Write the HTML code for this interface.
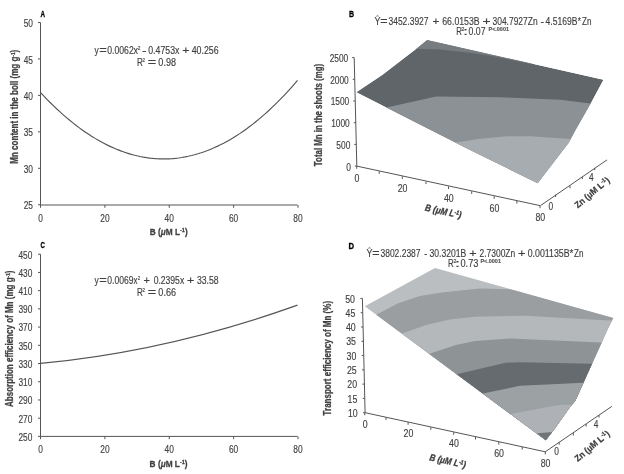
<!DOCTYPE html>
<html><head><meta charset="utf-8"><style>
html,body{margin:0;padding:0;background:#fff;width:624px;height:474px;overflow:hidden}
svg{display:block;filter:blur(0.3px)}
text{font-family:"Liberation Sans", sans-serif}
</style></head><body>
<svg width="624" height="474" viewBox="0 0 624 474">
<rect width="624" height="474" fill="#fff"/>
<line x1="40.50" y1="22.50" x2="40.50" y2="205.00" stroke="#555" stroke-width="1"/>
<line x1="40.50" y1="205.00" x2="297.50" y2="205.00" stroke="#555" stroke-width="1"/>
<line x1="38.00" y1="22.50" x2="40.50" y2="22.50" stroke="#555" stroke-width="1"/>
<text transform="translate(33.00,27.10) scale(0.76,1)" font-size="11" text-anchor="end" font-weight="normal" font-style="normal" fill="#404040" stroke="#404040" stroke-width="0.15">50</text>
<line x1="38.00" y1="58.95" x2="40.50" y2="58.95" stroke="#555" stroke-width="1"/>
<text transform="translate(33.00,63.55) scale(0.76,1)" font-size="11" text-anchor="end" font-weight="normal" font-style="normal" fill="#404040" stroke="#404040" stroke-width="0.15">45</text>
<line x1="38.00" y1="95.40" x2="40.50" y2="95.40" stroke="#555" stroke-width="1"/>
<text transform="translate(33.00,100.00) scale(0.76,1)" font-size="11" text-anchor="end" font-weight="normal" font-style="normal" fill="#404040" stroke="#404040" stroke-width="0.15">40</text>
<line x1="38.00" y1="131.85" x2="40.50" y2="131.85" stroke="#555" stroke-width="1"/>
<text transform="translate(33.00,136.45) scale(0.76,1)" font-size="11" text-anchor="end" font-weight="normal" font-style="normal" fill="#404040" stroke="#404040" stroke-width="0.15">35</text>
<line x1="38.00" y1="168.30" x2="40.50" y2="168.30" stroke="#555" stroke-width="1"/>
<text transform="translate(33.00,172.90) scale(0.76,1)" font-size="11" text-anchor="end" font-weight="normal" font-style="normal" fill="#404040" stroke="#404040" stroke-width="0.15">30</text>
<line x1="38.00" y1="204.75" x2="40.50" y2="204.75" stroke="#555" stroke-width="1"/>
<text transform="translate(33.00,209.35) scale(0.76,1)" font-size="11" text-anchor="end" font-weight="normal" font-style="normal" fill="#404040" stroke="#404040" stroke-width="0.15">25</text>
<line x1="40.50" y1="205.00" x2="40.50" y2="207.80" stroke="#555" stroke-width="1"/>
<text transform="translate(40.50,221.60) scale(0.76,1)" font-size="11" text-anchor="middle" font-weight="normal" font-style="normal" fill="#404040" stroke="#404040" stroke-width="0.15">0</text>
<line x1="104.88" y1="205.00" x2="104.88" y2="207.80" stroke="#555" stroke-width="1"/>
<text transform="translate(104.88,221.60) scale(0.76,1)" font-size="11" text-anchor="middle" font-weight="normal" font-style="normal" fill="#404040" stroke="#404040" stroke-width="0.15">20</text>
<line x1="169.25" y1="205.00" x2="169.25" y2="207.80" stroke="#555" stroke-width="1"/>
<text transform="translate(169.25,221.60) scale(0.76,1)" font-size="11" text-anchor="middle" font-weight="normal" font-style="normal" fill="#404040" stroke="#404040" stroke-width="0.15">40</text>
<line x1="233.62" y1="205.00" x2="233.62" y2="207.80" stroke="#555" stroke-width="1"/>
<text transform="translate(233.62,221.60) scale(0.76,1)" font-size="11" text-anchor="middle" font-weight="normal" font-style="normal" fill="#404040" stroke="#404040" stroke-width="0.15">60</text>
<line x1="298.00" y1="205.00" x2="298.00" y2="207.80" stroke="#555" stroke-width="1"/>
<text transform="translate(298.00,221.60) scale(0.76,1)" font-size="11" text-anchor="middle" font-weight="normal" font-style="normal" fill="#404040" stroke="#404040" stroke-width="0.15">80</text>
<path d="M40.50,92.53 L43.71,95.95 L46.92,99.28 L50.14,102.52 L53.35,105.67 L56.56,108.73 L59.77,111.70 L62.99,114.57 L66.20,117.36 L69.41,120.06 L72.62,122.66 L75.84,125.18 L79.05,127.60 L82.26,129.94 L85.47,132.18 L88.69,134.34 L91.90,136.40 L95.11,138.38 L98.33,140.26 L101.54,142.05 L104.75,143.75 L107.96,145.37 L111.17,146.89 L114.39,148.32 L117.60,149.66 L120.81,150.91 L124.03,152.07 L127.24,153.14 L130.45,154.12 L133.66,155.01 L136.88,155.80 L140.09,156.51 L143.30,157.13 L146.51,157.66 L149.72,158.09 L152.94,158.44 L156.15,158.69 L159.36,158.86 L162.57,158.94 L165.79,158.92 L169.00,158.81 L172.21,158.62 L175.43,158.33 L178.64,157.95 L181.85,157.49 L185.06,156.93 L188.28,156.28 L191.49,155.54 L194.70,154.71 L197.91,153.80 L201.12,152.79 L204.34,151.69 L207.55,150.50 L210.76,149.21 L213.97,147.84 L217.19,146.38 L220.40,144.83 L223.61,143.19 L226.82,141.45 L230.04,139.63 L233.25,137.72 L236.46,135.71 L239.68,133.62 L242.89,131.43 L246.10,129.16 L249.31,126.79 L252.53,124.34 L255.74,121.79 L258.95,119.15 L262.16,116.43 L265.38,113.61 L268.59,110.70 L271.80,107.70 L275.01,104.61 L278.23,101.43 L281.44,98.17 L284.65,94.81 L287.86,91.35 L291.07,87.81 L294.29,84.18 L297.50,80.46" fill="none" stroke="#555" stroke-width="1.15"/>
<text x="94.58" y="54.40" font-size="10.2" font-weight="normal" font-style="normal" fill="#404040" stroke="#404040" stroke-width="0.15" textLength="4.24" lengthAdjust="spacingAndGlyphs">y</text>
<text x="99.17" y="54.40" font-size="10.2" font-weight="normal" font-style="normal" fill="#404040" stroke="#404040" stroke-width="0.15" textLength="7.57" lengthAdjust="spacingAndGlyphs">=</text>
<text x="107.26" y="54.40" font-size="10.2" font-weight="normal" font-style="normal" fill="#404040" stroke="#404040" stroke-width="0.15" textLength="26.47" lengthAdjust="spacingAndGlyphs">0.0062</text>
<text x="133.40" y="54.40" font-size="10.2" font-weight="normal" font-style="normal" fill="#404040" stroke="#404040" stroke-width="0.15" textLength="4.50" lengthAdjust="spacingAndGlyphs">x</text>
<text x="137.76" y="50.10" font-size="6" font-weight="normal" font-style="normal" fill="#404040" stroke="#404040" stroke-width="0.15" textLength="2.69" lengthAdjust="spacingAndGlyphs">2</text>
<text x="141.98" y="54.40" font-size="10.2" font-weight="normal" font-style="normal" fill="#404040" stroke="#404040" stroke-width="0.15" textLength="4.64" lengthAdjust="spacingAndGlyphs">-</text>
<text x="148.26" y="54.40" font-size="10.2" font-weight="normal" font-style="normal" fill="#404040" stroke="#404040" stroke-width="0.15" textLength="31.14" lengthAdjust="spacingAndGlyphs">0.4753x</text>
<text x="182.30" y="54.40" font-size="10.2" font-weight="normal" font-style="normal" fill="#404040" stroke="#404040" stroke-width="0.15" textLength="7.21" lengthAdjust="spacingAndGlyphs">+</text>
<text x="191.70" y="54.40" font-size="10.2" font-weight="normal" font-style="normal" fill="#404040" stroke="#404040" stroke-width="0.15" textLength="26.99" lengthAdjust="spacingAndGlyphs">40.256</text>
<text x="137.04" y="66.20" font-size="10.2" font-weight="normal" font-style="normal" fill="#404040" stroke="#404040" stroke-width="0.15" textLength="5.84" lengthAdjust="spacingAndGlyphs">R</text>
<text x="142.48" y="62.00" font-size="5" font-weight="normal" font-style="normal" fill="#404040" stroke="#404040" stroke-width="0.15" textLength="2.44" lengthAdjust="spacingAndGlyphs">2</text>
<text x="147.70" y="66.20" font-size="10.2" font-weight="normal" font-style="normal" fill="#404040" stroke="#404040" stroke-width="0.15" textLength="8.41" lengthAdjust="spacingAndGlyphs">=</text>
<text x="158.35" y="66.20" font-size="10.2" font-weight="normal" font-style="normal" fill="#404040" stroke="#404040" stroke-width="0.15" textLength="17.65" lengthAdjust="spacingAndGlyphs">0.98</text>
<text transform="translate(17.50,106.70) rotate(-90.00) scale(0.76,1)" font-size="10" text-anchor="middle" font-weight="bold" font-style="normal" fill="#404040" stroke="#404040" stroke-width="0.25" textLength="150.00" lengthAdjust="spacingAndGlyphs">Mn content in the boll (mg g<tspan font-size="6" dy="-3">-1</tspan><tspan dy="3">)</tspan></text>
<text transform="translate(168.70,234.60) scale(0.76,1)" font-size="9" text-anchor="middle" font-weight="bold" font-style="normal" fill="#404040" stroke="#404040" stroke-width="0.25" textLength="50.00" lengthAdjust="spacingAndGlyphs">B (<tspan font-style="italic">μ</tspan>M L<tspan font-size="6" dy="-3">-1</tspan><tspan dy="3">)</tspan></text>
<text x="40.44" y="16.90" font-size="9.3" font-weight="bold" font-style="normal" fill="#000" stroke="#000" stroke-width="0.3" textLength="4.52" lengthAdjust="spacingAndGlyphs">A</text>
<line x1="40.50" y1="254.20" x2="40.50" y2="436.40" stroke="#555" stroke-width="1"/>
<line x1="40.50" y1="436.40" x2="297.50" y2="436.40" stroke="#555" stroke-width="1"/>
<line x1="38.00" y1="254.20" x2="40.50" y2="254.20" stroke="#555" stroke-width="1"/>
<text transform="translate(32.40,258.60) scale(0.76,1)" font-size="11" text-anchor="end" font-weight="normal" font-style="normal" fill="#404040" stroke="#404040" stroke-width="0.15">450</text>
<line x1="38.00" y1="272.42" x2="40.50" y2="272.42" stroke="#555" stroke-width="1"/>
<text transform="translate(32.40,276.82) scale(0.76,1)" font-size="11" text-anchor="end" font-weight="normal" font-style="normal" fill="#404040" stroke="#404040" stroke-width="0.15">430</text>
<line x1="38.00" y1="290.64" x2="40.50" y2="290.64" stroke="#555" stroke-width="1"/>
<text transform="translate(32.40,295.04) scale(0.76,1)" font-size="11" text-anchor="end" font-weight="normal" font-style="normal" fill="#404040" stroke="#404040" stroke-width="0.15">410</text>
<line x1="38.00" y1="308.86" x2="40.50" y2="308.86" stroke="#555" stroke-width="1"/>
<text transform="translate(32.40,313.26) scale(0.76,1)" font-size="11" text-anchor="end" font-weight="normal" font-style="normal" fill="#404040" stroke="#404040" stroke-width="0.15">390</text>
<line x1="38.00" y1="327.08" x2="40.50" y2="327.08" stroke="#555" stroke-width="1"/>
<text transform="translate(32.40,331.48) scale(0.76,1)" font-size="11" text-anchor="end" font-weight="normal" font-style="normal" fill="#404040" stroke="#404040" stroke-width="0.15">370</text>
<line x1="38.00" y1="345.30" x2="40.50" y2="345.30" stroke="#555" stroke-width="1"/>
<text transform="translate(32.40,349.70) scale(0.76,1)" font-size="11" text-anchor="end" font-weight="normal" font-style="normal" fill="#404040" stroke="#404040" stroke-width="0.15">350</text>
<line x1="38.00" y1="363.52" x2="40.50" y2="363.52" stroke="#555" stroke-width="1"/>
<text transform="translate(32.40,367.92) scale(0.76,1)" font-size="11" text-anchor="end" font-weight="normal" font-style="normal" fill="#404040" stroke="#404040" stroke-width="0.15">330</text>
<line x1="38.00" y1="381.74" x2="40.50" y2="381.74" stroke="#555" stroke-width="1"/>
<text transform="translate(32.40,386.14) scale(0.76,1)" font-size="11" text-anchor="end" font-weight="normal" font-style="normal" fill="#404040" stroke="#404040" stroke-width="0.15">310</text>
<line x1="38.00" y1="399.96" x2="40.50" y2="399.96" stroke="#555" stroke-width="1"/>
<text transform="translate(32.40,404.36) scale(0.76,1)" font-size="11" text-anchor="end" font-weight="normal" font-style="normal" fill="#404040" stroke="#404040" stroke-width="0.15">290</text>
<line x1="38.00" y1="418.18" x2="40.50" y2="418.18" stroke="#555" stroke-width="1"/>
<text transform="translate(32.40,422.58) scale(0.76,1)" font-size="11" text-anchor="end" font-weight="normal" font-style="normal" fill="#404040" stroke="#404040" stroke-width="0.15">270</text>
<line x1="38.00" y1="436.40" x2="40.50" y2="436.40" stroke="#555" stroke-width="1"/>
<text transform="translate(32.40,440.80) scale(0.76,1)" font-size="11" text-anchor="end" font-weight="normal" font-style="normal" fill="#404040" stroke="#404040" stroke-width="0.15">250</text>
<line x1="40.50" y1="436.40" x2="40.50" y2="439.20" stroke="#555" stroke-width="1"/>
<text transform="translate(40.50,452.60) scale(0.76,1)" font-size="11" text-anchor="middle" font-weight="normal" font-style="normal" fill="#404040" stroke="#404040" stroke-width="0.15">0</text>
<line x1="104.88" y1="436.40" x2="104.88" y2="439.20" stroke="#555" stroke-width="1"/>
<text transform="translate(104.88,452.60) scale(0.76,1)" font-size="11" text-anchor="middle" font-weight="normal" font-style="normal" fill="#404040" stroke="#404040" stroke-width="0.15">20</text>
<line x1="169.25" y1="436.40" x2="169.25" y2="439.20" stroke="#555" stroke-width="1"/>
<text transform="translate(169.25,452.60) scale(0.76,1)" font-size="11" text-anchor="middle" font-weight="normal" font-style="normal" fill="#404040" stroke="#404040" stroke-width="0.15">40</text>
<line x1="233.62" y1="436.40" x2="233.62" y2="439.20" stroke="#555" stroke-width="1"/>
<text transform="translate(233.62,452.60) scale(0.76,1)" font-size="11" text-anchor="middle" font-weight="normal" font-style="normal" fill="#404040" stroke="#404040" stroke-width="0.15">60</text>
<line x1="298.00" y1="436.40" x2="298.00" y2="439.20" stroke="#555" stroke-width="1"/>
<text transform="translate(298.00,452.60) scale(0.76,1)" font-size="11" text-anchor="middle" font-weight="normal" font-style="normal" fill="#404040" stroke="#404040" stroke-width="0.15">80</text>
<path d="M40.5,363.4 Q169,351.15 297.5,305.1" fill="none" stroke="#555" stroke-width="1.15"/>
<text x="94.58" y="284.40" font-size="10.2" font-weight="normal" font-style="normal" fill="#404040" stroke="#404040" stroke-width="0.15" textLength="4.24" lengthAdjust="spacingAndGlyphs">y</text>
<text x="99.17" y="284.40" font-size="10.2" font-weight="normal" font-style="normal" fill="#404040" stroke="#404040" stroke-width="0.15" textLength="7.57" lengthAdjust="spacingAndGlyphs">=</text>
<text x="107.27" y="284.40" font-size="10.2" font-weight="normal" font-style="normal" fill="#404040" stroke="#404040" stroke-width="0.15" textLength="26.14" lengthAdjust="spacingAndGlyphs">0.0069</text>
<text x="133.61" y="284.40" font-size="10.2" font-weight="normal" font-style="normal" fill="#404040" stroke="#404040" stroke-width="0.15" textLength="3.97" lengthAdjust="spacingAndGlyphs">x</text>
<text x="137.78" y="280.10" font-size="6" font-weight="normal" font-style="normal" fill="#404040" stroke="#404040" stroke-width="0.15" textLength="2.44" lengthAdjust="spacingAndGlyphs">2</text>
<text x="143.47" y="284.40" font-size="10.2" font-weight="normal" font-style="normal" fill="#404040" stroke="#404040" stroke-width="0.15" textLength="6.37" lengthAdjust="spacingAndGlyphs">+</text>
<text x="153.66" y="284.40" font-size="10.2" font-weight="normal" font-style="normal" fill="#404040" stroke="#404040" stroke-width="0.15" textLength="30.53" lengthAdjust="spacingAndGlyphs">0.2395x</text>
<text x="187.10" y="284.40" font-size="10.2" font-weight="normal" font-style="normal" fill="#404040" stroke="#404040" stroke-width="0.15" textLength="7.21" lengthAdjust="spacingAndGlyphs">+</text>
<text x="196.97" y="284.40" font-size="10.2" font-weight="normal" font-style="normal" fill="#404040" stroke="#404040" stroke-width="0.15" textLength="21.71" lengthAdjust="spacingAndGlyphs">33.58</text>
<text x="137.04" y="296.20" font-size="10.2" font-weight="normal" font-style="normal" fill="#404040" stroke="#404040" stroke-width="0.15" textLength="5.84" lengthAdjust="spacingAndGlyphs">R</text>
<text x="142.48" y="292.00" font-size="5" font-weight="normal" font-style="normal" fill="#404040" stroke="#404040" stroke-width="0.15" textLength="2.44" lengthAdjust="spacingAndGlyphs">2</text>
<text x="147.70" y="296.20" font-size="10.2" font-weight="normal" font-style="normal" fill="#404040" stroke="#404040" stroke-width="0.15" textLength="8.41" lengthAdjust="spacingAndGlyphs">=</text>
<text x="158.35" y="296.20" font-size="10.2" font-weight="normal" font-style="normal" fill="#404040" stroke="#404040" stroke-width="0.15" textLength="17.65" lengthAdjust="spacingAndGlyphs">0.66</text>
<text transform="translate(12.80,338.75) rotate(-90.00) scale(0.76,1)" font-size="10" text-anchor="middle" font-weight="bold" font-style="normal" fill="#404040" stroke="#404040" stroke-width="0.25" textLength="179.61" lengthAdjust="spacingAndGlyphs">Absorption efficiency of Mn (mg g<tspan font-size="6" dy="-3">-1</tspan><tspan dy="3">)</tspan></text>
<text transform="translate(168.60,466.70) scale(0.76,1)" font-size="9" text-anchor="middle" font-weight="bold" font-style="normal" fill="#404040" stroke="#404040" stroke-width="0.25" textLength="50.00" lengthAdjust="spacingAndGlyphs">B (<tspan font-style="italic">μ</tspan>M L<tspan font-size="6" dy="-3">-1</tspan><tspan dy="3">)</tspan></text>
<text x="40.55" y="248.10" font-size="9.3" font-weight="bold" font-style="normal" fill="#000" stroke="#000" stroke-width="0.3" textLength="4.42" lengthAdjust="spacingAndGlyphs">C</text>
<clipPath id="cb"><polygon points="356.3,92.2 382.5,74.7 416.3,48.7 427.2,40 603.5,79.8 591,103 575.6,130 568.7,142.7 552.2,164.2 537.7,183.2 470,150 400,114.6"/></clipPath>
<g clip-path="url(#cb)">
<polygon points="356.3,92.2 382.5,74.7 416.3,48.7 427.2,40.0 603.5,79.8 591.0,103.0 575.6,130.0 568.7,142.7 552.2,164.2 537.7,183.2 470.0,150.0 400.0,114.6" fill="#5f6568"/>
<polygon points="400.0,48.5 416.3,48.7 440.0,49.6 470.0,52.8 495.0,56.6 532.0,64.2 532.0,0.0 400.0,0.0" fill="#767c80"/>
<polygon points="370.0,111.0 386.5,107.5 436.2,96.4 501.0,97.3 530.0,98.4 560.0,99.8 590.6,103.6 640.0,108.0 640.0,250.0 300.0,250.0" fill="#8b9195"/>
<polygon points="430.0,145.0 457.9,142.3 478.0,139.1 507.0,136.2 530.0,136.3 570.8,138.9 640.0,142.0 640.0,250.0 300.0,250.0" fill="#a7acb0"/>
</g>
<line x1="354.20" y1="57.60" x2="356.80" y2="166.10" stroke="#555" stroke-width="1"/>
<line x1="352.20" y1="57.60" x2="354.20" y2="57.60" stroke="#555" stroke-width="1"/>
<text transform="translate(348.20,62.00) scale(0.76,1)" font-size="11" text-anchor="end" font-weight="normal" font-style="normal" fill="#404040" stroke="#404040" stroke-width="0.15">2500</text>
<line x1="352.72" y1="79.30" x2="354.72" y2="79.30" stroke="#555" stroke-width="1"/>
<text transform="translate(348.72,83.70) scale(0.76,1)" font-size="11" text-anchor="end" font-weight="normal" font-style="normal" fill="#404040" stroke="#404040" stroke-width="0.15">2000</text>
<line x1="353.24" y1="101.00" x2="355.24" y2="101.00" stroke="#555" stroke-width="1"/>
<text transform="translate(349.24,105.40) scale(0.76,1)" font-size="11" text-anchor="end" font-weight="normal" font-style="normal" fill="#404040" stroke="#404040" stroke-width="0.15">1500</text>
<line x1="353.76" y1="122.70" x2="355.76" y2="122.70" stroke="#555" stroke-width="1"/>
<text transform="translate(349.76,127.10) scale(0.76,1)" font-size="11" text-anchor="end" font-weight="normal" font-style="normal" fill="#404040" stroke="#404040" stroke-width="0.15">1000</text>
<line x1="354.28" y1="144.40" x2="356.28" y2="144.40" stroke="#555" stroke-width="1"/>
<text transform="translate(350.28,148.80) scale(0.76,1)" font-size="11" text-anchor="end" font-weight="normal" font-style="normal" fill="#404040" stroke="#404040" stroke-width="0.15">500</text>
<line x1="354.80" y1="166.10" x2="356.80" y2="166.10" stroke="#555" stroke-width="1"/>
<text transform="translate(350.80,170.50) scale(0.76,1)" font-size="11" text-anchor="end" font-weight="normal" font-style="normal" fill="#404040" stroke="#404040" stroke-width="0.15">0</text>
<line x1="356.80" y1="166.10" x2="540.00" y2="205.60" stroke="#555" stroke-width="1"/>
<line x1="356.70" y1="166.20" x2="356.70" y2="168.80" stroke="#555" stroke-width="1"/>
<text transform="translate(357.00,181.80) scale(0.8,1)" font-size="11" text-anchor="middle" font-weight="normal" font-style="normal" fill="#404040" stroke="#404040" stroke-width="0.15">0</text>
<line x1="379.20" y1="171.30" x2="379.20" y2="173.90" stroke="#555" stroke-width="1"/>
<line x1="402.30" y1="176.30" x2="402.30" y2="178.90" stroke="#555" stroke-width="1"/>
<text transform="translate(402.60,191.90) scale(0.8,1)" font-size="11" text-anchor="middle" font-weight="normal" font-style="normal" fill="#404040" stroke="#404040" stroke-width="0.15">20</text>
<line x1="426.00" y1="181.50" x2="426.00" y2="184.10" stroke="#555" stroke-width="1"/>
<line x1="448.50" y1="186.40" x2="448.50" y2="189.00" stroke="#555" stroke-width="1"/>
<text transform="translate(448.80,202.00) scale(0.8,1)" font-size="11" text-anchor="middle" font-weight="normal" font-style="normal" fill="#404040" stroke="#404040" stroke-width="0.15">40</text>
<line x1="471.70" y1="191.30" x2="471.70" y2="193.90" stroke="#555" stroke-width="1"/>
<line x1="494.20" y1="196.20" x2="494.20" y2="198.80" stroke="#555" stroke-width="1"/>
<text transform="translate(494.50,211.80) scale(0.8,1)" font-size="11" text-anchor="middle" font-weight="normal" font-style="normal" fill="#404040" stroke="#404040" stroke-width="0.15">60</text>
<line x1="516.90" y1="201.00" x2="516.90" y2="203.60" stroke="#555" stroke-width="1"/>
<line x1="540.00" y1="205.60" x2="540.00" y2="208.20" stroke="#555" stroke-width="1"/>
<text transform="translate(540.30,221.20) scale(0.8,1)" font-size="11" text-anchor="middle" font-weight="normal" font-style="normal" fill="#404040" stroke="#404040" stroke-width="0.15">80</text>
<line x1="540.50" y1="205.60" x2="607.00" y2="159.90" stroke="#555" stroke-width="1"/>
<line x1="555.60" y1="194.60" x2="555.60" y2="197.00" stroke="#555" stroke-width="1"/>
<line x1="570.00" y1="185.90" x2="570.00" y2="188.30" stroke="#555" stroke-width="1"/>
<line x1="582.30" y1="176.70" x2="582.30" y2="179.10" stroke="#555" stroke-width="1"/>
<line x1="594.70" y1="167.80" x2="594.70" y2="170.20" stroke="#555" stroke-width="1"/>
<text transform="translate(550.80,209.60) scale(0.76,1)" font-size="11" text-anchor="middle" font-weight="normal" font-style="normal" fill="#404040" stroke="#404040" stroke-width="0.15">0</text>
<text transform="translate(591.30,180.50) scale(0.76,1)" font-size="11" text-anchor="middle" font-weight="normal" font-style="normal" fill="#404040" stroke="#404040" stroke-width="0.15">4</text>
<text transform="translate(442.70,214.50) rotate(12.17) scale(0.76,1)" font-size="9.6" text-anchor="middle" font-weight="bold" font-style="italic" fill="#404040" stroke="#404040" stroke-width="0.3" textLength="48.68" lengthAdjust="spacingAndGlyphs">B (μM L<tspan font-size="6" dy="-3">-1</tspan><tspan dy="3">)</tspan></text>
<text transform="translate(594.00,194.80) rotate(-40.00) scale(0.76,1)" font-size="9" text-anchor="middle" font-weight="bold" font-style="normal" fill="#404040" stroke="#404040" stroke-width="0.25" textLength="55.92" lengthAdjust="spacingAndGlyphs">Zn (μM L<tspan font-size="6" dy="-3">-1</tspan><tspan dy="3">)</tspan></text>
<text transform="translate(322.00,115.00) rotate(-90.00) scale(0.76,1)" font-size="10" text-anchor="middle" font-weight="bold" font-style="normal" fill="#404040" stroke="#404040" stroke-width="0.25" textLength="134.61" lengthAdjust="spacingAndGlyphs">Total Mn in the shoots (mg)</text>
<text x="374.60" y="25.30" font-size="10.2" font-weight="normal" font-style="normal" fill="#404040" stroke="#404040" stroke-width="0.15" textLength="5.99" lengthAdjust="spacingAndGlyphs">Ŷ</text>
<text x="380.39" y="25.30" font-size="10.2" font-weight="normal" font-style="normal" fill="#404040" stroke="#404040" stroke-width="0.15" textLength="7.33" lengthAdjust="spacingAndGlyphs">=</text>
<text x="388.48" y="25.30" font-size="10.2" font-weight="normal" font-style="normal" fill="#404040" stroke="#404040" stroke-width="0.15" textLength="40.05" lengthAdjust="spacingAndGlyphs">3452.3927</text>
<text x="432.54" y="25.30" font-size="10.2" font-weight="normal" font-style="normal" fill="#404040" stroke="#404040" stroke-width="0.15" textLength="6.73" lengthAdjust="spacingAndGlyphs">+</text>
<text x="442.26" y="25.30" font-size="10.2" font-weight="normal" font-style="normal" fill="#404040" stroke="#404040" stroke-width="0.15" textLength="37.40" lengthAdjust="spacingAndGlyphs">66.0153B</text>
<text x="482.43" y="25.30" font-size="10.2" font-weight="normal" font-style="normal" fill="#404040" stroke="#404040" stroke-width="0.15" textLength="8.05" lengthAdjust="spacingAndGlyphs">+</text>
<text x="492.48" y="25.30" font-size="10.2" font-weight="normal" font-style="normal" fill="#404040" stroke="#404040" stroke-width="0.15" textLength="45.17" lengthAdjust="spacingAndGlyphs">304.7927Zn</text>
<text x="540.53" y="25.30" font-size="10.2" font-weight="normal" font-style="normal" fill="#404040" stroke="#404040" stroke-width="0.15" textLength="3.55" lengthAdjust="spacingAndGlyphs">-</text>
<text x="545.60" y="25.30" font-size="10.2" font-weight="normal" font-style="normal" fill="#404040" stroke="#404040" stroke-width="0.15" textLength="31.85" lengthAdjust="spacingAndGlyphs">4.5169B</text>
<text x="577.87" y="25.30" font-size="10.2" font-weight="normal" font-style="normal" fill="#404040" stroke="#404040" stroke-width="0.15" textLength="3.16" lengthAdjust="spacingAndGlyphs">*</text>
<text x="582.04" y="25.30" font-size="10.2" font-weight="normal" font-style="normal" fill="#404040" stroke="#404040" stroke-width="0.15" textLength="9.49" lengthAdjust="spacingAndGlyphs">Zn</text>
<text x="456.16" y="35.30" font-size="10.2" font-weight="normal" font-style="normal" fill="#404040" stroke="#404040" stroke-width="0.15" textLength="5.59" lengthAdjust="spacingAndGlyphs">R</text>
<text x="461.31" y="31.00" font-size="5" font-weight="normal" font-style="normal" fill="#404040" stroke="#404040" stroke-width="0.15" textLength="3.17" lengthAdjust="spacingAndGlyphs">2</text>
<text x="463.17" y="35.30" font-size="10.2" font-weight="normal" font-style="normal" fill="#404040" stroke="#404040" stroke-width="0.15" textLength="4.67" lengthAdjust="spacingAndGlyphs">:</text>
<text x="468.56" y="35.30" font-size="10.2" font-weight="normal" font-style="normal" fill="#404040" stroke="#404040" stroke-width="0.15" textLength="16.98" lengthAdjust="spacingAndGlyphs">0.07</text>
<text x="488.54" y="31.40" font-size="5.4" font-weight="bold" font-style="normal" fill="#555" stroke="#555" stroke-width="0.15" textLength="20.42" lengthAdjust="spacingAndGlyphs">P&lt;.0001</text>
<text x="349.03" y="17.10" font-size="9.3" font-weight="bold" font-style="normal" fill="#000" stroke="#000" stroke-width="0.3" textLength="5.09" lengthAdjust="spacingAndGlyphs">B</text>
<polygon points="364.8,306.2 435.0,267.9 613.3,318.0 608.0,328.5 575.5,400.5 569.7,407.4 555.3,428.0 545.8,440.3" fill="#babec1"/>
<clipPath id="cd"><polygon points="364.8,306.2 435,267.9 613.3,318 608,328.5 575.5,400.5 569.7,407.4 555.3,428 545.8,440.3"/></clipPath>
<g clip-path="url(#cd)">
<polygon points="336.6,344.5 376.6,314.5 398.3,303.3 419.9,296.1 441.5,292.5 480.0,288.5 511.2,289.2 700.0,289.2 700.0,480.0 300.0,480.0" fill="#9a9ea1"/>
<polygon points="361.4,363.7 401.4,333.7 427.0,324.8 451.1,319.2 475.1,316.8 525.7,315.7 608.5,320.4 700.0,320.4 700.0,480.0 300.0,480.0" fill="#b4b8bb"/>
<polygon points="389.5,383.7 429.5,353.7 455.9,344.9 475.1,340.9 510.0,338.6 600.3,342.4 700.0,342.4 700.0,480.0 300.0,480.0" fill="#8e9396"/>
<polygon points="416.7,404.2 456.7,374.2 505.8,362.7 520.0,362.3 591.7,363.8 700.0,363.8 700.0,480.0 300.0,480.0" fill="#656b6e"/>
<polygon points="442.7,423.5 482.7,393.5 520.0,385.8 583.2,382.8 700.0,382.8 700.0,480.0 300.0,480.0" fill="#9ca1a4"/>
<polygon points="471.9,443.8 511.9,413.8 540.0,408.5 557.4,405.3 572.0,404.5 700.0,404.5 700.0,480.0 300.0,480.0" fill="#aeb2b6"/>
<polygon points="498.2,463.2 538.2,433.2 551.9,432.1 560.0,432.0 700.0,432.0 700.0,480.0 300.0,480.0" fill="#707578"/>
</g>
<line x1="362.40" y1="298.40" x2="365.10" y2="412.70" stroke="#555" stroke-width="1"/>
<line x1="360.40" y1="298.40" x2="362.40" y2="298.40" stroke="#555" stroke-width="1"/>
<text transform="translate(355.00,302.60) scale(0.8,1)" font-size="11" text-anchor="end" font-weight="normal" font-style="normal" fill="#404040" stroke="#404040" stroke-width="0.15">50</text>
<line x1="360.74" y1="312.69" x2="362.74" y2="312.69" stroke="#555" stroke-width="1"/>
<text transform="translate(355.34,316.89) scale(0.8,1)" font-size="11" text-anchor="end" font-weight="normal" font-style="normal" fill="#404040" stroke="#404040" stroke-width="0.15">45</text>
<line x1="361.07" y1="326.97" x2="363.07" y2="326.97" stroke="#555" stroke-width="1"/>
<text transform="translate(355.68,331.17) scale(0.8,1)" font-size="11" text-anchor="end" font-weight="normal" font-style="normal" fill="#404040" stroke="#404040" stroke-width="0.15">40</text>
<line x1="361.41" y1="341.26" x2="363.41" y2="341.26" stroke="#555" stroke-width="1"/>
<text transform="translate(356.01,345.46) scale(0.8,1)" font-size="11" text-anchor="end" font-weight="normal" font-style="normal" fill="#404040" stroke="#404040" stroke-width="0.15">35</text>
<line x1="361.75" y1="355.55" x2="363.75" y2="355.55" stroke="#555" stroke-width="1"/>
<text transform="translate(356.35,359.75) scale(0.8,1)" font-size="11" text-anchor="end" font-weight="normal" font-style="normal" fill="#404040" stroke="#404040" stroke-width="0.15">30</text>
<line x1="362.09" y1="369.84" x2="364.09" y2="369.84" stroke="#555" stroke-width="1"/>
<text transform="translate(356.69,374.04) scale(0.8,1)" font-size="11" text-anchor="end" font-weight="normal" font-style="normal" fill="#404040" stroke="#404040" stroke-width="0.15">25</text>
<line x1="362.43" y1="384.12" x2="364.43" y2="384.12" stroke="#555" stroke-width="1"/>
<text transform="translate(357.03,388.32) scale(0.8,1)" font-size="11" text-anchor="end" font-weight="normal" font-style="normal" fill="#404040" stroke="#404040" stroke-width="0.15">20</text>
<line x1="362.76" y1="398.41" x2="364.76" y2="398.41" stroke="#555" stroke-width="1"/>
<text transform="translate(357.36,402.61) scale(0.8,1)" font-size="11" text-anchor="end" font-weight="normal" font-style="normal" fill="#404040" stroke="#404040" stroke-width="0.15">15</text>
<line x1="363.10" y1="412.70" x2="365.10" y2="412.70" stroke="#555" stroke-width="1"/>
<text transform="translate(357.70,416.90) scale(0.8,1)" font-size="11" text-anchor="end" font-weight="normal" font-style="normal" fill="#404040" stroke="#404040" stroke-width="0.15">10</text>
<line x1="365.10" y1="412.70" x2="545.30" y2="451.80" stroke="#555" stroke-width="1"/>
<line x1="364.80" y1="412.70" x2="364.80" y2="415.30" stroke="#555" stroke-width="1"/>
<text transform="translate(365.10,427.70) scale(0.8,1)" font-size="11" text-anchor="middle" font-weight="normal" font-style="normal" fill="#404040" stroke="#404040" stroke-width="0.15">0</text>
<line x1="386.00" y1="417.40" x2="386.00" y2="420.00" stroke="#555" stroke-width="1"/>
<line x1="408.10" y1="422.20" x2="408.10" y2="424.80" stroke="#555" stroke-width="1"/>
<text transform="translate(408.40,437.20) scale(0.8,1)" font-size="11" text-anchor="middle" font-weight="normal" font-style="normal" fill="#404040" stroke="#404040" stroke-width="0.15">20</text>
<line x1="430.80" y1="427.20" x2="430.80" y2="429.80" stroke="#555" stroke-width="1"/>
<line x1="453.70" y1="432.20" x2="453.70" y2="434.80" stroke="#555" stroke-width="1"/>
<text transform="translate(454.00,447.20) scale(0.8,1)" font-size="11" text-anchor="middle" font-weight="normal" font-style="normal" fill="#404040" stroke="#404040" stroke-width="0.15">40</text>
<line x1="475.50" y1="436.90" x2="475.50" y2="439.50" stroke="#555" stroke-width="1"/>
<line x1="498.80" y1="442.00" x2="498.80" y2="444.60" stroke="#555" stroke-width="1"/>
<text transform="translate(499.10,457.00) scale(0.8,1)" font-size="11" text-anchor="middle" font-weight="normal" font-style="normal" fill="#404040" stroke="#404040" stroke-width="0.15">60</text>
<line x1="522.20" y1="447.00" x2="522.20" y2="449.60" stroke="#555" stroke-width="1"/>
<line x1="545.30" y1="451.80" x2="545.30" y2="454.40" stroke="#555" stroke-width="1"/>
<text transform="translate(545.60,466.80) scale(0.8,1)" font-size="11" text-anchor="middle" font-weight="normal" font-style="normal" fill="#404040" stroke="#404040" stroke-width="0.15">80</text>
<line x1="545.10" y1="451.90" x2="611.80" y2="406.40" stroke="#555" stroke-width="1"/>
<line x1="559.20" y1="442.30" x2="559.20" y2="444.70" stroke="#555" stroke-width="1"/>
<line x1="573.30" y1="433.10" x2="573.30" y2="435.50" stroke="#555" stroke-width="1"/>
<line x1="586.20" y1="424.10" x2="586.20" y2="426.50" stroke="#555" stroke-width="1"/>
<line x1="599.00" y1="415.20" x2="599.00" y2="417.60" stroke="#555" stroke-width="1"/>
<text transform="translate(556.60,455.40) scale(0.76,1)" font-size="11" text-anchor="middle" font-weight="normal" font-style="normal" fill="#404040" stroke="#404040" stroke-width="0.15">0</text>
<text transform="translate(596.10,427.60) scale(0.76,1)" font-size="11" text-anchor="middle" font-weight="normal" font-style="normal" fill="#404040" stroke="#404040" stroke-width="0.15">4</text>
<text transform="translate(447.00,464.20) rotate(12.17) scale(0.76,1)" font-size="9.6" text-anchor="middle" font-weight="bold" font-style="italic" fill="#404040" stroke="#404040" stroke-width="0.3" textLength="48.68" lengthAdjust="spacingAndGlyphs">B (μM L<tspan font-size="6" dy="-3">-1</tspan><tspan dy="3">)</tspan></text>
<text transform="translate(594.00,448.30) rotate(-40.00) scale(0.76,1)" font-size="9" text-anchor="middle" font-weight="bold" font-style="normal" fill="#404040" stroke="#404040" stroke-width="0.25" textLength="55.92" lengthAdjust="spacingAndGlyphs">Zn (μM L<tspan font-size="6" dy="-3">-1</tspan><tspan dy="3">)</tspan></text>
<text transform="translate(330.70,358.20) rotate(-90.00) scale(0.76,1)" font-size="10" text-anchor="middle" font-weight="bold" font-style="normal" fill="#404040" stroke="#404040" stroke-width="0.25" textLength="150.66" lengthAdjust="spacingAndGlyphs">Transport efficiency of Mn (%)</text>
<text x="366.60" y="257.10" font-size="10.2" font-weight="normal" font-style="normal" fill="#404040" stroke="#404040" stroke-width="0.15" textLength="5.99" lengthAdjust="spacingAndGlyphs">Ŷ</text>
<text x="372.39" y="257.10" font-size="10.2" font-weight="normal" font-style="normal" fill="#404040" stroke="#404040" stroke-width="0.15" textLength="7.33" lengthAdjust="spacingAndGlyphs">=</text>
<text x="380.48" y="257.10" font-size="10.2" font-weight="normal" font-style="normal" fill="#404040" stroke="#404040" stroke-width="0.15" textLength="40.05" lengthAdjust="spacingAndGlyphs">3802.2387</text>
<text x="424.20" y="257.10" font-size="10.2" font-weight="normal" font-style="normal" fill="#404040" stroke="#404040" stroke-width="0.15" textLength="3.00" lengthAdjust="spacingAndGlyphs">-</text>
<text x="429.57" y="257.10" font-size="10.2" font-weight="normal" font-style="normal" fill="#404040" stroke="#404040" stroke-width="0.15" textLength="36.68" lengthAdjust="spacingAndGlyphs">30.3201B</text>
<text x="469.19" y="257.10" font-size="10.2" font-weight="normal" font-style="normal" fill="#404040" stroke="#404040" stroke-width="0.15" textLength="7.33" lengthAdjust="spacingAndGlyphs">+</text>
<text x="479.47" y="257.10" font-size="10.2" font-weight="normal" font-style="normal" fill="#404040" stroke="#404040" stroke-width="0.15" textLength="35.78" lengthAdjust="spacingAndGlyphs">2.7300Zn</text>
<text x="517.98" y="257.10" font-size="10.2" font-weight="normal" font-style="normal" fill="#404040" stroke="#404040" stroke-width="0.15" textLength="7.45" lengthAdjust="spacingAndGlyphs">+</text>
<text x="527.66" y="257.10" font-size="10.2" font-weight="normal" font-style="normal" fill="#404040" stroke="#404040" stroke-width="0.15" textLength="41.89" lengthAdjust="spacingAndGlyphs">0.001135B</text>
<text x="569.44" y="257.10" font-size="10.2" font-weight="normal" font-style="normal" fill="#404040" stroke="#404040" stroke-width="0.15" textLength="3.92" lengthAdjust="spacingAndGlyphs">*</text>
<text x="573.94" y="257.10" font-size="10.2" font-weight="normal" font-style="normal" fill="#404040" stroke="#404040" stroke-width="0.15" textLength="9.49" lengthAdjust="spacingAndGlyphs">Zn</text>
<text x="448.05" y="267.30" font-size="10.2" font-weight="normal" font-style="normal" fill="#404040" stroke="#404040" stroke-width="0.15" textLength="5.72" lengthAdjust="spacingAndGlyphs">R</text>
<text x="453.54" y="263.00" font-size="5" font-weight="normal" font-style="normal" fill="#404040" stroke="#404040" stroke-width="0.15" textLength="2.93" lengthAdjust="spacingAndGlyphs">2</text>
<text x="454.97" y="267.30" font-size="10.2" font-weight="normal" font-style="normal" fill="#404040" stroke="#404040" stroke-width="0.15" textLength="4.96" lengthAdjust="spacingAndGlyphs">:</text>
<text x="460.44" y="267.30" font-size="10.2" font-weight="normal" font-style="normal" fill="#404040" stroke="#404040" stroke-width="0.15" textLength="17.97" lengthAdjust="spacingAndGlyphs">0.73</text>
<text x="480.43" y="263.20" font-size="5.4" font-weight="bold" font-style="normal" fill="#555" stroke="#555" stroke-width="0.15" textLength="20.52" lengthAdjust="spacingAndGlyphs">P&lt;.0001</text>
<text x="348.59" y="248.70" font-size="9.3" font-weight="bold" font-style="normal" fill="#000" stroke="#000" stroke-width="0.3" textLength="5.53" lengthAdjust="spacingAndGlyphs">D</text>
</svg></body></html>
